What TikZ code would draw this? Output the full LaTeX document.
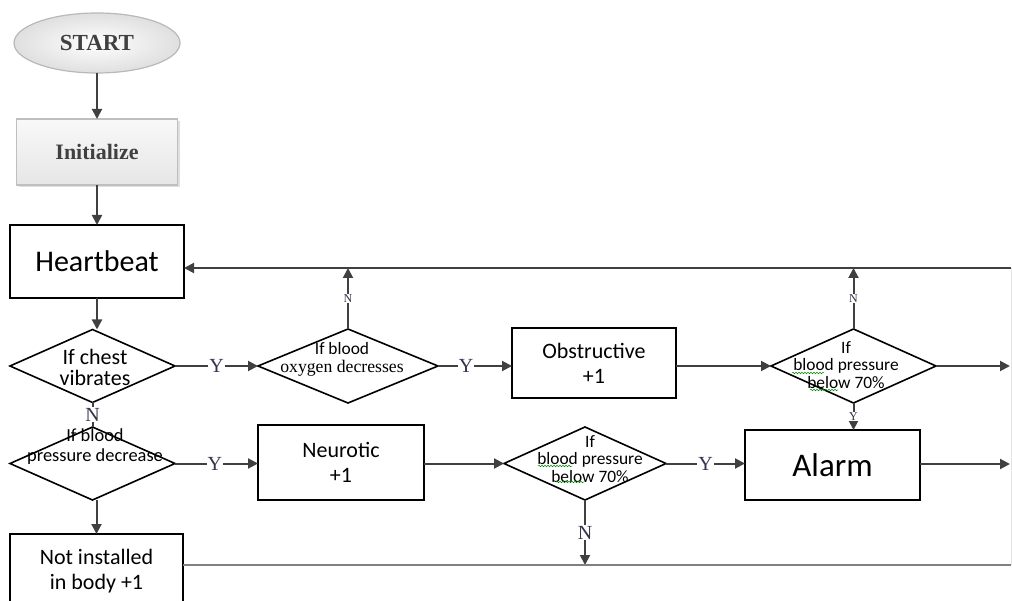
\documentclass[tikz,border=0pt]{standalone}
\usepackage{fontspec}
\setmainfont{Carlito}
\newfontfamily\tms{Liberation Serif}
\usetikzlibrary{shapes.geometric,arrows.meta,shadows,decorations.pathmorphing}
\definecolor{ln}{HTML}{404040}
\definecolor{lbl}{HTML}{34344A}
\begin{document}
\begin{tikzpicture}[x=1pt,y=-1pt,
  every node/.style={inner sep=0pt, outer sep=0pt},
  box/.style={draw=black, line width=1.8pt, rectangle, fill=white},
  dia/.style={draw=black, line width=1.6pt, diamond, fill=white},
  flow/.style={draw=ln, line width=2pt, -{Triangle[length=10pt,width=10pt]}},
  plain/.style={draw=ln, line width=2pt},
  lab/.style={fill=white, text=lbl, font=\tms\fontsize{20}{20}\selectfont, inner sep=1pt},
  slab/.style={fill=white, text=lbl, font=\tms\fontsize{12}{12}\selectfont, inner sep=1pt},
  txt/.style={align=center, font=\fontsize{22}{25}\selectfont},
  dtxt/.style={align=center, font=\fontsize{17.4}{17.5}\selectfont},
  wavy/.style={draw=green!55!black, line width=0.5pt, decorate, decoration={snake, segment length=3pt, amplitude=0.8pt}},
]
\useasboundingbox (0,0) rectangle (1012,601);
\clip (0,0) rectangle (1012,601);

% nodes
\node[ellipse, draw=gray!55, line width=1.2pt, inner color=white, outer color=gray!25,
      minimum width=166pt, minimum height=60pt,
      font=\tms\bfseries\fontsize{23}{23}\selectfont, text=darkgray] (start) at (97,43) {START};
\node[rectangle, draw=gray!50, line width=1.2pt, top color=gray!5, bottom color=gray!20,
      drop shadow={shadow xshift=2pt, shadow yshift=-2pt, opacity=0.25},
      minimum width=161pt, minimum height=66pt,
      font=\tms\bfseries\fontsize{22}{22}\selectfont, text=darkgray] (init) at (97,152) {Initialize};
\node[box, minimum width=174pt, minimum height=73pt, font=\fontsize{30}{30}\selectfont] (hb) at (97,261.5) {Heartbeat};

\node[dia, minimum width=165pt, minimum height=73pt] (chest) at (92.5,366) {};
\node[align=center, font=\fontsize{22}{21}\selectfont] (chestt) at (95,367) {If chest\\vibrates};

\node[dia, minimum width=180pt, minimum height=74pt] (oxy) at (348,366) {};
\node[align=center, font=\fontsize{17.4}{17}\selectfont] (oxyt) at (342,359) {If blood\\[1pt]{\tms\fontsize{17.7}{17}\selectfont oxygen decresses}};

\node[box, minimum width=164pt, minimum height=70pt, txt] (obs) at (594,363) {Obstructive\\+1};

\node[dia, minimum width=165pt, minimum height=74pt] (bp1) at (853.5,366) {};
\node[dtxt] (bp1t) at (846,365) {If\\blood pressure\\below 70\%};

\node[box, minimum width=175pt, minimum height=70pt, font=\fontsize{33}{33}\selectfont] (alarm) at (832.5,465) {Alarm};

\node[dia, minimum width=165pt, minimum height=73pt] (bpd) at (92.5,463.5) {};
\node[align=center, font=\fontsize{18.4}{20}\selectfont] (bpdt) at (95,447) {If blood\\pressure decrease};

\node[box, minimum width=166pt, minimum height=75pt, txt] (neu) at (341,462.5) {Neurotic\\+1};

\node[dia, minimum width=162pt, minimum height=73pt] (bp2) at (585,463.5) {};
\node[dtxt] (bp2t) at (590,459) {If\\blood pressure\\below 70\%};

\node[box, minimum width=173pt, minimum height=74pt, txt] (ni) at (96.5,571) {Not installed\\in body +1};

% edge coordinates
\coordinate (rt) at (1011,268);
\coordinate (bot) at (1011,565);
\coordinate (r1) at (1010,366);
\coordinate (r2) at (1010,464);

% right faint edge
\draw[gray!20, line width=0.8pt] (rt) -- (bot);

% connectors
\draw[flow] (start) -- (init);
\draw[flow] (init) -- (hb);
\draw[flow] (rt) -- (rt -| hb.east);
\draw[flow] (hb.south) -- (hb.south |- chest.north);
\draw[plain] (chest.south) -- node[lab]{N} (bpd.north);
\draw[flow] (bpd.south -| ni.north) -- (ni.north);
\draw[flow] (chest.east) -- node[lab]{Y} (oxy.west);
\draw[flow] (oxy.north) -- node[slab]{N} (oxy.north |- rt);
\draw[flow] (oxy.east) -- node[lab, pos=0.38]{Y} (oxy.east -| obs.west);
\draw[flow] (obs.east |- bp1.west) -- (bp1.west);
\draw[flow] (bp1.north) -- node[slab]{N} (bp1.north |- rt);
\draw[flow] (bp1.east) -- (r1);
\draw[flow] (bp1.south) -- node[slab]{Y} (bp1.south |- alarm.north);
\draw[flow] (bpd.east) -- node[lab, pos=0.48]{Y} (bpd.east -| neu.west);
\draw[flow] (neu.east |- bp2.west) -- (bp2.west);
\draw[flow] (bp2.east) -- node[lab, pos=0.5]{Y} (bp2.east -| alarm.west);
\draw[flow] (alarm.east |- r2) -- (r2);
\draw[flow] (bp2.south) -- node[lab]{N} (bp2.south |- bot);
\draw[draw=gray, line width=1.4pt] (ni.east |- bot) -- (bot);

% spell-check underlines
\draw[wavy] (792,373) -- (824,373);
\draw[wavy] (810,390) -- (838,390);
\draw[wavy] (538,466) -- (572,466);
\draw[wavy] (556,482) -- (584,482);
\end{tikzpicture}
\end{document}
